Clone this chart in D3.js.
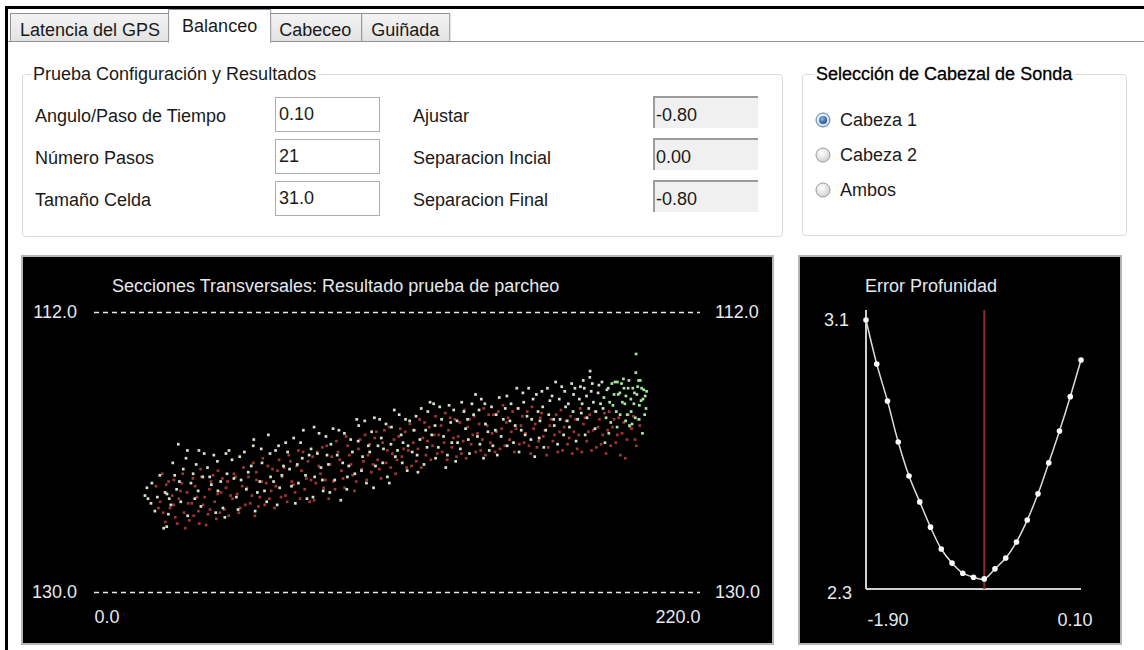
<!DOCTYPE html>
<html>
<head>
<meta charset="utf-8">
<script src="https://cdn.jsdelivr.net/npm/d3@7"></script>
<style>
  html, body { margin: 0; padding: 0; background: #fff; }
  svg { display: block; }
  .ui { font-family: "Liberation Sans", Arial, sans-serif; font-size: 18px; fill: #1a1a1a; }
  .panel text { font-family: "Liberation Sans", Arial, sans-serif; font-size: 18px; fill: #e6e8ee; }
</style>
</head>
<body>
<svg id="vista" width="1144" height="650"></svg>
<script>
// ---- Pestañas y controles del formulario ----
const pestanas = ["Latencia del GPS", "Balanceo", "Cabeceo", "Guiñada"];
const pestanaActiva = 1;

const tituloPrueba = "Prueba Configuración y Resultados";
const etiquetasConfig = ["Angulo/Paso de Tiempo", "Número Pasos", "Tamaño Celda"];
const valoresConfig = ["0.10", "21", "31.0"];
const etiquetasResultado = ["Ajustar", "Separacion Incial", "Separacion Final"];
const valoresResultado = ["-0.80", "0.00", "-0.80"];

const tituloCabezal = "Selección de Cabezal de Sonda";
const cabezales = ["Cabeza 1", "Cabeza 2", "Ambos"];
const cabezalActivo = 0;

// ---- Secciones transversales: distancia (m) / profundidad (m) ----
const tituloSecciones = "Secciones Transversales: Resultado prueba de parcheo";
const distanciaDominio = [0, 220];
const profundidadDominio = [112, 130];

// sondeos de la pasada roja
const pasadaRoja = [
  [22.5,123.2],[24.0,124.2],[25.1,124.9],[26.2,123.1],[27.6,124.6],[28.4,123.8],[29.5,125.2],[30.8,124.0],
  [31.9,123.0],[32.7,124.9],[33.8,123.6],[34.6,125.4],[24.8,122.4],[29.0,122.8],
  [35.5,124.3],[36.7,123.2],[37.9,124.8],[39.0,122.6],[40.2,123.9],[41.4,125.0],[42.5,122.9],[43.8,124.2],
  [45.0,122.2],[46.1,123.6],[47.3,124.7],[48.5,122.9],[49.6,123.8],[38.2,125.6],[44.4,125.3],
  [50.8,122.4],[52.0,123.7],[53.1,124.6],[54.3,122.0],[55.5,123.3],[56.7,124.3],[57.8,121.7],[59.0,122.8],
  [60.2,123.9],[61.3,121.4],[62.5,123.0],[63.7,124.0],[64.8,122.1],[58.4,125.1],
  [66.0,123.2],[67.2,121.5],[68.3,122.6],[69.5,123.8],[70.7,121.2],[71.8,122.9],[73.0,123.6],[74.2,120.9],
  [75.3,122.2],[76.5,123.4],[77.7,121.6],[78.8,122.8],[79.9,124.1],
  [81.0,121.0],[82.2,122.4],[83.4,123.3],[84.5,120.6],[85.7,121.8],[86.9,122.9],[88.0,120.3],[89.2,121.5],
  [90.4,122.7],[91.5,120.0],[92.7,121.2],[93.9,122.5],[94.6,123.5],
  [96.0,120.8],[97.2,122.1],[98.4,119.9],[99.5,121.2],[100.7,122.3],[101.9,120.1],[103.0,121.5],[104.2,122.7],
  [105.4,119.6],[106.5,120.9],[107.7,122.0],[108.9,120.2],[110.0,121.5],
  [111.2,119.5],[112.4,120.8],[113.5,122.0],[114.7,119.2],[115.9,120.4],[117.0,121.6],[118.2,118.9],[119.4,120.1],
  [120.5,121.2],[121.7,119.4],[122.9,120.6],[124.0,118.7],
  [125.2,119.9],[126.4,121.0],[127.5,118.5],[128.7,119.6],[129.9,120.7],[131.0,118.9],[132.2,120.0],[133.4,121.1],
  [134.5,118.3],[135.7,119.4],[136.9,120.5],[138.0,118.7],[139.2,119.8],
  [140.4,120.9],[141.5,118.2],[142.7,119.3],[143.9,120.4],[145.0,118.6],[146.2,119.7],[147.4,120.8],[148.5,118.0],
  [149.7,119.1],[150.9,120.2],[152.0,118.4],[153.2,119.5],[154.4,120.5],
  [155.5,118.7],[156.7,119.8],[157.9,120.6],[159.0,118.1],[160.2,119.2],[161.4,120.3],[162.5,118.5],[163.7,119.6],
  [164.9,120.7],[166.0,118.9],[167.2,119.9],[168.4,121.0],
  [169.5,118.3],[170.7,119.4],[171.9,120.5],[173.0,118.7],[174.2,119.7],[175.4,120.8],[176.5,118.2],[177.7,119.2],
  [178.9,120.3],[180.0,118.6],[181.2,119.6],[182.4,120.7],
  [183.5,118.9],[184.7,119.9],[185.9,121.1],[187.0,118.4],[188.2,119.4],[189.4,120.4],[190.5,118.8],[191.7,119.8],
  [192.9,121.4],[194.0,118.6],[195.2,119.5],[196.4,120.2],[197.5,118.9],
  [23.4,124.6],[25.9,125.5],[27.1,122.9],[28.9,124.4],[30.2,125.6],[31.4,123.5],[32.2,122.4],[33.1,125.9],
  [34.2,124.3],[35.9,122.7],[36.2,125.1],[37.4,123.9],[38.7,122.1],[39.6,124.4],[40.7,125.7],[41.9,123.4],
  [42.1,124.7],[43.2,122.5],[44.9,123.7],[45.7,124.9],[46.6,122.7],[47.9,123.3],[48.9,125.1],[50.3,124.0],
  [51.4,122.6],[52.6,124.9],[53.8,123.2],[54.9,124.4],[56.1,122.6],[57.3,123.8],[58.9,122.3],[59.7,124.5],
  [60.9,122.9],[62.0,124.4],[63.1,121.9],[64.3,123.5],[65.5,124.6],[66.6,122.2],[67.9,123.9],[69.0,122.0],
  [70.1,124.2],[71.3,121.6],[72.4,123.1],[73.6,121.9],[74.8,124.0],[75.9,121.0],[77.1,122.7],[78.3,124.2],
  [79.4,121.3],[80.5,123.0],[81.6,121.9],[82.9,120.7],[84.0,122.8],[85.2,124.0],[86.3,121.3],[87.5,123.4],
  [88.6,121.0],[89.8,122.2],[91.0,123.3],[92.1,120.6],[93.3,121.8],[95.2,122.9],[96.6,120.2],[97.8,121.6],
  [99.0,122.8],[100.1,120.5],[101.3,121.8],[102.5,119.7],[103.6,122.1],[104.8,120.4],[106.0,121.7],[107.1,119.4],
  [108.3,121.1],[109.5,122.4],[110.6,120.0],[111.8,121.3],[113.0,119.7],[114.1,120.9],[115.3,121.9],[116.5,119.6],
  [117.6,120.8],[118.8,122.0],[120.0,119.1],[121.1,120.3],[122.3,121.5],[123.5,119.9],[124.6,121.1],[126.0,119.3],
  [127.1,120.4],[128.2,121.5],[129.3,118.8],[130.5,120.1],[131.6,121.3],[132.8,119.1],[134.0,120.3],[135.1,121.4],
  [136.3,118.9],[137.5,119.9],[138.6,121.0],[139.8,119.2],[141.0,120.2],[142.1,121.2],[143.3,118.6],[144.5,119.8],
  [145.6,121.0],[146.8,118.4],[148.0,119.5],[149.1,120.6],[150.3,118.8],[151.5,119.7],[152.6,121.0],[153.8,118.2],
  [155.0,119.3],[156.1,120.4],[157.3,118.4],[158.5,121.1],[159.6,119.5],[160.8,120.7],[162.0,118.8],[163.1,120.0],
  [164.3,121.2],[165.5,119.3],[166.6,120.3],[167.8,118.6],[169.0,119.7],[170.1,120.9],[171.3,119.0],[172.5,120.1],
  [173.6,121.1],[174.8,118.9],[176.0,119.9],[177.1,121.0],[178.3,118.8],[179.5,119.7],[180.6,120.9],[181.8,118.4],
  [183.0,119.4],[184.1,120.5],[185.3,118.5],[186.5,119.6],[187.6,120.6],[188.8,118.9],[190.0,119.9],[191.1,121.2],
  [192.3,119.1],[193.5,120.2],[194.6,119.4],[195.8,118.7],[196.9,120.6],[198.1,119.3]
];

// sondeos de la pasada verde
const pasadaVerde = [
  [18.5,123.8],[19.6,124.0],[20.7,124.3],[19.2,123.3],[23.9,122.5],[25.8,123.6],[26.5,123.7],[27.3,124.0],
  [27.0,125.0],[25.3,125.9],[26.4,125.8],[27.9,124.4],[22.1,124.8],
  [29.3,122.5],[30.6,120.5],[33.4,121.4],[32.4,122.1],[35.2,123.0],[37.1,121.8],[38.8,124.5],[31.5,124.2],
  [34.0,125.1],[36.6,124.0],[39.5,122.6],[30.0,123.4],[38.1,120.9],
  [41.2,122.0],[43.5,121.2],[45.0,123.5],[46.8,124.6],[48.3,122.4],[50.1,121.5],[51.7,123.9],[53.4,122.8],
  [44.2,124.9],[49.0,120.9],[54.6,121.0],[42.6,123.1],[52.3,124.7],[47.5,125.2],
  [56.0,122.3],[57.8,120.6],[59.3,123.6],[61.0,121.7],[62.7,124.2],[64.1,122.6],[65.9,120.9],[67.4,123.3],
  [68.8,121.9],[58.5,124.8],[63.3,119.9],[66.5,124.4],[69.6,120.4],[60.2,122.9],
  [71.0,122.1],[72.5,120.1],[74.2,123.0],[75.6,121.4],[77.3,124.0],[78.8,120.8],[80.1,122.6],[81.7,119.8],
  [83.2,123.5],[84.6,121.2],[73.1,124.3],[79.5,123.9],[76.0,119.6],[82.4,122.0],
  [86.0,120.5],[87.4,122.8],[88.9,119.6],[90.3,121.7],[91.8,123.4],[93.2,120.2],[94.7,122.4],[96.1,119.3],
  [97.5,121.3],[98.9,123.0],[89.6,124.1],[95.4,118.9],[99.6,120.6],[92.5,121.9],[85.6,123.6],
  [100.8,119.7],[102.2,121.9],[103.7,118.9],[105.1,120.8],[106.5,122.6],[108.0,119.4],[109.4,121.3],[110.8,118.6],
  [112.2,120.4],[113.7,122.2],[101.5,123.3],[107.2,123.0],[111.5,119.9],[114.6,119.0],[104.3,120.1],
  [115.5,121.0],[116.9,118.7],[118.3,120.2],[119.8,121.8],[121.2,118.4],[122.6,119.9],[124.0,121.4],[125.5,118.1],
  [126.9,120.0],[128.3,121.2],[117.6,122.3],[123.3,117.9],[129.5,119.1],[120.4,119.6],[127.7,122.0],
  [130.6,118.3],[132.0,120.4],[133.5,117.8],[134.9,119.5],[136.3,121.1],[137.8,118.6],[139.2,120.0],[140.6,117.6],
  [142.1,119.2],[143.5,120.9],[131.3,121.6],[138.5,117.3],[144.3,118.1],[135.6,118.9],[141.4,121.4],
  [145.7,119.6],[147.1,117.5],[148.6,118.9],[150.0,120.6],[151.4,117.9],[152.9,119.3],[154.3,121.0],[155.7,117.2],
  [157.2,118.7],[158.6,120.2],[146.4,121.2],[153.5,116.9],[159.4,117.6],[149.3,118.2],[156.5,119.9],[160.0,121.3],
  [161.2,118.4],[162.6,117.1],[164.0,119.6],[165.5,117.7],[166.9,118.9],[168.3,120.5],[169.8,116.8],[171.2,118.1],
  [172.6,119.4],[174.1,117.3],[163.3,120.7],[167.6,116.5],[170.5,119.9],[173.4,116.6],[161.9,119.0],[175.0,120.3],
  [176.2,117.6],[177.6,116.4],[179.0,118.8],[180.5,117.1],[181.9,119.5],[183.3,116.7],[184.8,118.2],[186.2,117.0],
  [187.6,119.1],[189.1,116.5],[178.3,119.9],[185.5,120.4],[180.1,115.8],[188.4,118.0],[180.0,116.2],[176.9,118.5],
  [190.3,117.3],[191.5,116.6],[192.7,117.9],[193.9,116.9],[195.0,118.4],[196.2,117.2],[197.4,116.8],[198.6,117.7],
  [199.6,117.0],[200.4,118.2],[191.0,118.6],[194.4,119.3],[197.9,118.9],[199.1,119.8],[196.7,115.9],[192.2,116.3],
  [198.3,116.4],[200.1,117.4],[196.8,114.7],
  [21.0,123.0],[23.0,123.9],[28.6,121.7],[31.0,122.9],[33.9,120.9],[36.0,122.4],[37.8,123.5],[40.0,121.1],
  [42.0,122.6],[44.8,121.6],[46.0,122.9],[47.9,121.1],[50.8,122.7],[52.9,121.3],[55.3,123.4],[57.1,121.9],
  [58.0,120.2],[60.7,120.8],[61.9,123.5],[63.9,121.1],[65.2,122.9],[67.0,120.6],[68.2,122.5],[70.3,121.0],
  [71.7,123.2],[73.8,121.8],[75.0,120.4],[76.8,122.5],[78.1,121.2],[79.9,119.4],[81.1,121.1],[82.9,122.8],
  [84.2,120.0],[85.1,121.8],[86.8,119.5],[88.3,121.2],[90.9,119.8],[92.0,122.6],[93.8,121.0],[95.9,120.3],
  [97.1,122.2],[98.3,119.0],[100.1,121.0],[101.8,118.8],[103.1,120.6],[104.8,121.7],[106.0,119.2],[107.8,120.5],
  [109.0,118.3],[110.2,120.9],[111.9,121.7],[113.1,118.9],[114.0,120.6],[116.1,119.6],[117.3,121.2],[118.8,118.2],
  [120.9,120.7],[122.0,117.8],[123.8,119.3],[125.0,120.7],[126.2,118.9],[128.9,118.0],[129.9,120.4],[131.8,119.0],
  [133.0,120.8],[134.3,118.4],[135.9,120.2],[137.2,117.9],[139.8,118.3],[140.1,120.5],[141.9,117.9],[143.0,119.7],
  [144.8,120.6],[146.0,118.6],[147.8,120.0],[149.9,117.4],[151.0,119.0],[152.3,120.4],[154.0,118.2],[155.1,119.6],
  [156.0,117.8],[157.8,116.9],[158.9,118.9],[160.6,117.3],[161.6,120.1],[162.9,118.1],[164.6,116.9],[165.1,118.6],
  [166.3,117.4],[167.1,119.3],[168.9,117.6],[169.2,118.9],[170.9,117.1],[171.8,119.0],[172.2,117.9],[173.9,118.4],
  [174.6,116.9],[175.6,118.9],[176.6,116.8],[177.2,117.9],[178.0,116.9],[178.8,117.4],[179.6,118.2],[180.9,116.6],
  [181.3,117.8],[182.2,118.4],[183.0,117.2],[183.9,117.9],[184.4,116.5],[185.1,117.5],[185.9,118.8],[186.7,116.9],
  [187.2,117.8],[188.0,116.6],[188.8,117.3],[189.6,118.4],[190.0,116.5],[190.9,117.2],[191.8,117.8],[192.4,116.9],
  [193.1,117.4],[193.6,118.6],[194.2,116.4],[194.9,117.6],[195.6,116.9],[196.0,117.9],[196.5,118.8],[197.1,117.3],
  [197.7,116.4],[198.0,118.0],[198.8,116.9],[199.3,117.6],[199.9,118.6],[200.6,117.1],[195.3,119.2],[193.0,119.0],
  [189.9,119.4],[186.9,119.8]
];

// ---- Error de profundidad frente al ángulo de balanceo ----
const tituloError = "Error Profunidad";
const angulos = [-1.90, -1.80, -1.70, -1.60, -1.50, -1.40, -1.30, -1.20, -1.10, -1.00, -0.90,
                 -0.80, -0.70, -0.60, -0.50, -0.40, -0.30, -0.20, -0.10, 0.00, 0.10];
const errorProfundidad = [3.100, 2.969, 2.859, 2.737, 2.636, 2.559, 2.484, 2.419, 2.377, 2.347, 2.335,
                          2.330, 2.360, 2.392, 2.440, 2.505, 2.583, 2.675, 2.770, 2.872, 2.981];
const errorDominio = [2.3, 3.1];
const anguloAjuste = -0.80;

// ======================================================================
// números con guion ASCII como signo menos
const loc = d3.formatLocale({ decimal: ".", thousands: ",", grouping: [3], currency: ["", ""], minus: "-" });
const f1 = loc.format(".1f"), f2 = loc.format(".2f");

const svg = d3.select("#vista");
const defs = svg.append("defs");

const gTab = defs.append("linearGradient").attr("id", "gTab").attr("x1", 0).attr("y1", 0).attr("x2", 0).attr("y2", 1);
gTab.append("stop").attr("offset", "0%").attr("stop-color", "#f4f4f4");
gTab.append("stop").attr("offset", "100%").attr("stop-color", "#e2e2e2");

const gRadio = defs.append("radialGradient").attr("id", "gRadio").attr("cx", "40%").attr("cy", "35%").attr("r", "70%");
gRadio.append("stop").attr("offset", "0%").attr("stop-color", "#ffffff");
gRadio.append("stop").attr("offset", "100%").attr("stop-color", "#cfcfcf");

const gRadioSel = defs.append("radialGradient").attr("id", "gRadioSel").attr("cx", "40%").attr("cy", "35%").attr("r", "70%");
gRadioSel.append("stop").attr("offset", "0%").attr("stop-color", "#7fb6ea");
gRadioSel.append("stop").attr("offset", "100%").attr("stop-color", "#1b4f86");

// fondo y marco de la ventana
svg.append("rect").attr("width", 1144).attr("height", 650).attr("fill", "#fff");
svg.append("rect").attr("x", 5).attr("y", 6).attr("width", 1139).attr("height", 3).attr("fill", "#000");
svg.append("rect").attr("x", 5).attr("y", 6).attr("width", 3).attr("height", 644).attr("fill", "#000");

// ---- pestañas ----
const ui = svg.append("g").attr("class", "ui");
function medir(t, sel) {
  const n = sel.append("text").text(t);
  const w = n.node().getComputedTextLength();
  n.remove();
  return w;
}
let tx = 10;
const cajasPestana = pestanas.map((p, i) => {
  const w = medir(p, ui) + (i === pestanaActiva ? 24 : 20);
  const b = { p, i, x: tx, w };
  tx += w;
  return b;
});
ui.append("line").attr("x1", 8).attr("x2", 1144).attr("y1", 41.5).attr("y2", 41.5).attr("stroke", "#8e9199");

const tabs = ui.selectAll("g.tab").data(cajasPestana.filter(b => b.i !== pestanaActiva)
  .concat(cajasPestana.filter(b => b.i === pestanaActiva))).join("g").attr("class", "tab");
tabs.append("path")
  .attr("d", b => b.i === pestanaActiva
    ? `M${b.x - 1.5},42.5V9.5H${b.x + b.w + 1.5}V42.5`
    : `M${b.x + 0.5},41.5V13.5H${b.x + b.w + 0.5}V41.5Z`)
  .attr("fill", b => b.i === pestanaActiva ? "#fff" : "url(#gTab)")
  .attr("stroke", "#8e9199");
tabs.append("text")
  .attr("x", b => b.x + (b.i === pestanaActiva ? 12 : 10))
  .attr("y", b => b.i === pestanaActiva ? 32 : 36)
  .text(b => b.p);

// ---- cuadros de grupo ----
function grupo(x, y, w, h, titulo, dx, fuerte) {
  ui.append("rect").attr("x", x + 0.5).attr("y", y + 0.5).attr("width", w).attr("height", h)
    .attr("rx", 3).attr("fill", "none").attr("stroke", "#d3dbe0");
  const tw = medir(titulo, ui);
  ui.append("rect").attr("x", x + dx - 2).attr("y", y - 8).attr("width", tw + 4).attr("height", 16).attr("fill", "#fff");
  const t = ui.append("text").attr("x", x + dx).attr("y", y + 6).text(titulo);
  if (fuerte) t.attr("fill", "#000").attr("stroke", "#000").attr("stroke-width", 0.3);
}
grupo(22, 74, 760, 162, tituloPrueba, 11, false);
grupo(802, 74, 324, 161, tituloCabezal, 14, true);

// filas de configuración
const filas = ui.selectAll("g.fila").data(etiquetasConfig.map((e, i) => ({
  e, v: valoresConfig[i], r: etiquetasResultado[i], rv: valoresResultado[i], i
}))).join("g").attr("class", "fila")
  .attr("transform", d => `translate(0,${d.i * 42})`);

filas.append("text").attr("x", 35).attr("y", 122).text(d => d.e);
filas.append("rect").attr("x", 275.5).attr("y", 97.5).attr("width", 104).attr("height", 34)
  .attr("fill", "#fff").attr("stroke", "#abadb3");
filas.append("text").attr("x", 279).attr("y", 120).text(d => d.v);

filas.append("text").attr("x", 413).attr("y", 122).text(d => d.r);
filas.append("rect").attr("x", 653).attr("y", 96).attr("width", 105).attr("height", 32).attr("fill", "#f0f0f0");
filas.append("path").attr("d", "M654,128V97H758").attr("fill", "none").attr("stroke", "#9c9c9c").attr("stroke-width", 2);
filas.append("text").attr("x", 656).attr("y", 121).text(d => d.rv);

// selección de cabezal
const radios = ui.selectAll("g.radio").data(cabezales.map((c, i) => ({ c, i }))).join("g").attr("class", "radio")
  .attr("transform", d => `translate(823,${120 + d.i * 35})`);
radios.append("circle").attr("r", 7).attr("fill", "url(#gRadio)")
  .attr("stroke", d => d.i === cabezalActivo ? "#4a86bd" : "#9b9b9b");
radios.filter(d => d.i === cabezalActivo).append("circle").attr("r", 4).attr("fill", "url(#gRadioSel)");
radios.append("text").attr("x", 17).attr("y", 6).text(d => d.c);

// ---- panel de secciones transversales ----
const ps = svg.append("g").attr("class", "panel");
ps.append("rect").attr("x", 21).attr("y", 255).attr("width", 753).attr("height", 390).attr("fill", "#b5b5b5");
ps.append("rect").attr("x", 23).attr("y", 257).attr("width", 749).attr("height", 386).attr("fill", "#000");
ps.append("text").attr("x", 112).attr("y", 292).text(tituloSecciones);

const xs = d3.scaleLinear().domain(distanciaDominio).range([94, 700]);
const ys = d3.scaleLinear().domain(profundidadDominio).range([312, 592]);

function estiloTexto(sel) {
  sel.attr("fill", "#e6e8ee").attr("font-size", 18).attr("font-family", "Liberation Sans, Arial, sans-serif");
}

const ejeIzq = ps.append("g").attr("transform", "translate(94,0)")
  .call(d3.axisLeft(ys).tickValues(profundidadDominio).tickFormat(f1)
    .tickSize(-(xs.range()[1] - xs.range()[0])).tickPadding(17));
ejeIzq.select(".domain").remove();
ejeIzq.selectAll(".tick line").attr("stroke", "#e6e6e6").attr("stroke-width", 1.5).attr("stroke-dasharray", "5,4");
ejeIzq.selectAll(".tick text").call(estiloTexto);

const ejeDer = ps.append("g").attr("transform", "translate(700,0)")
  .call(d3.axisRight(ys).tickValues(profundidadDominio).tickFormat(f1).tickSize(0).tickPadding(15));
ejeDer.select(".domain").remove();
ejeDer.selectAll(".tick text").call(estiloTexto);

const ejeX = ps.append("g").attr("transform", "translate(0,592)")
  .call(d3.axisBottom(xs).tickValues(distanciaDominio).tickFormat(f1).tickSize(0).tickPadding(18));
ejeX.select(".domain").remove();
ejeX.selectAll(".tick text").call(estiloTexto)
  .attr("text-anchor", (d, i) => i === 0 ? "start" : "end");

const tamPunto = 2.7;
ps.append("g").selectAll("rect").data(pasadaRoja).join("rect")
  .attr("x", d => xs(d[0]) - tamPunto / 2).attr("y", d => ys(d[1]) - tamPunto / 2)
  .attr("width", tamPunto).attr("height", tamPunto).attr("fill", "#a33434");
ps.append("g").selectAll("rect").data(pasadaVerde).join("rect")
  .attr("x", d => xs(d[0]) - tamPunto / 2).attr("y", d => ys(d[1]) - tamPunto / 2)
  .attr("width", tamPunto).attr("height", tamPunto)
  .attr("fill", d => d[0] > 185 ? "#a6e6a2" : "#d2e2ce");

// ---- panel de error de profundidad ----
const pe = svg.append("g").attr("class", "panel");
pe.append("rect").attr("x", 798).attr("y", 255).attr("width", 324).attr("height", 390).attr("fill", "#b5b5b5");
pe.append("rect").attr("x", 800).attr("y", 257).attr("width", 320).attr("height", 386).attr("fill", "#000");
pe.append("text").attr("x", 931).attr("y", 292).attr("text-anchor", "middle").text(tituloError);

const xe = d3.scaleLinear().domain([angulos[0], angulos[angulos.length - 1]]).range([866, 1081]);
const ye = d3.scaleLinear().domain(errorDominio).range([589, 320]);

// ejes
pe.append("line").attr("x1", xe.range()[0]).attr("x2", xe.range()[0]).attr("y1", ye(errorDominio[0]))
  .attr("y2", ye(errorDominio[1]) - 10).attr("stroke", "#cfcfcf").attr("stroke-width", 2);
pe.append("line").attr("x1", xe.range()[0]).attr("x2", xe.range()[1]).attr("y1", ye(errorDominio[0]))
  .attr("y2", ye(errorDominio[0])).attr("stroke", "#cfcfcf").attr("stroke-width", 2);

const ejeYe = pe.append("g").attr("transform", `translate(${xe.range()[0]},0)`)
  .call(d3.axisLeft(ye).tickValues(errorDominio).tickFormat(f1).tickSize(0).tickPadding(17));
ejeYe.select(".domain").remove();
ejeYe.selectAll(".tick text").call(estiloTexto)
  .attr("dy", (d, i) => i === 0 ? "0.5em" : "0.32em").attr("dx", (d, i) => i === 0 ? 3 : 0);

const ejeXe = pe.append("g").attr("transform", `translate(0,${ye(errorDominio[0])})`)
  .call(d3.axisBottom(xe).tickValues(xe.domain()).tickFormat(f2).tickSize(0).tickPadding(24));
ejeXe.select(".domain").remove();
ejeXe.selectAll(".tick text").call(estiloTexto)
  .attr("text-anchor", (d, i) => i === 0 ? "start" : "end").attr("dx", (d, i) => i === 0 ? 1 : 11);

// ajuste seleccionado
pe.append("line").attr("x1", xe(anguloAjuste)).attr("x2", xe(anguloAjuste))
  .attr("y1", ye(errorDominio[0])).attr("y2", ye(errorDominio[1]) - 10)
  .attr("stroke", "#8e2a2a").attr("stroke-width", 2);

const serieError = angulos.map((a, i) => [a, errorProfundidad[i]]);
pe.append("path").datum(serieError)
  .attr("d", d3.line().x(d => xe(d[0])).y(d => ye(d[1])).curve(d3.curveCatmullRom))
  .attr("fill", "none").attr("stroke", "#dcdcdc").attr("stroke-width", 1.5);
pe.append("g").selectAll("circle").data(serieError).join("circle")
  .attr("cx", d => xe(d[0])).attr("cy", d => ye(d[1])).attr("r", 2.8).attr("fill", "#fafafa");
</script>
</body>
</html>
